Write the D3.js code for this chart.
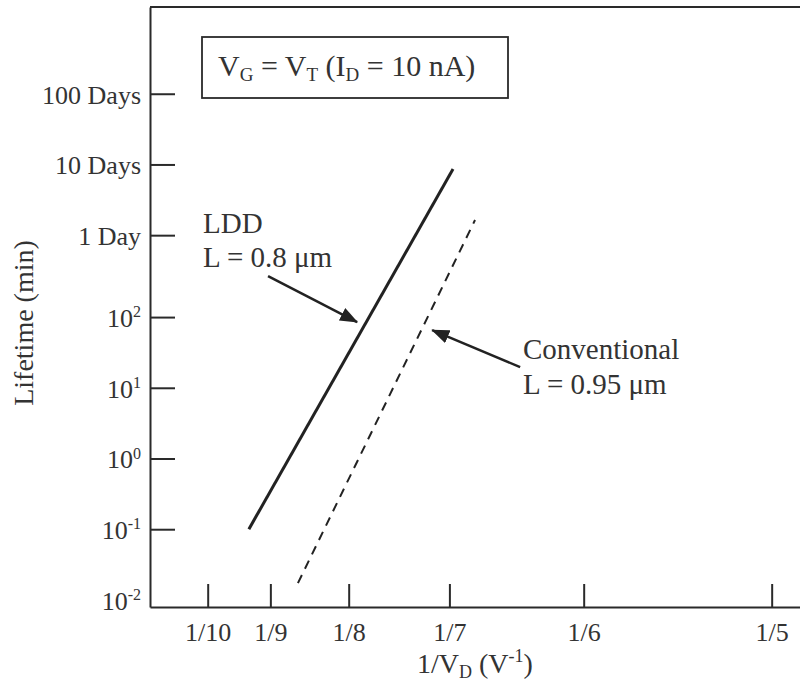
<!DOCTYPE html>
<html>
<head>
<meta charset="utf-8">
<script src="https://cdn.jsdelivr.net/npm/d3@7"></script>
<style>
    body { margin: 0; background: #fff; }
    .axis path, .axis line { stroke: #2a2a2a; stroke-width: 2; }
    .axis text { fill: #333; font-size: 26px; font-family: "Liberation Serif", serif; }
</style>
</head>
<body>
<script>
//tick values and labels
var xTickVals = [1/10, 1/9, 1/8, 1/7, 1/6, 1/5];
var xTickLabels = ["1/10", "1/9", "1/8", "1/7", "1/6", "1/5"];
var yTickVals = [0.01, 0.1, 1, 10, 100, 1440, 14400, 144000];
var yTickLabels = [["10", "-2"], ["10", "-1"], ["10", "0"], ["10", "1"], ["10", "2"], "1 Day", "10 Days", "100 Days"];

//lifetime lines, [1/VD, lifetime in min]
var lddLine = [[0.1073, 0.1], [0.1435, 12400]];
var convLine = [[0.1160, 0.0173], [0.1474, 2355]];

//annotation arrows, [from, tip] in data units
var lddArrow = [[0.1107, 380], [0.1265, 85]];
var convArrow = [[0.1554, 19.6], [0.1398, 65.5]];

var width = 800,
    height = 700;

var svg = d3.select("body")
    .append("svg")
    .attr("width", width)
    .attr("height", height)
    .style("display", "block");

var defs = svg.append("defs");
defs.append("marker")
    .attr("id", "head")
    .attr("markerUnits", "userSpaceOnUse")
    .attr("viewBox", "0 0 18 14")
    .attr("refX", 17)
    .attr("refY", 7)
    .attr("markerWidth", 18)
    .attr("markerHeight", 14)
    .attr("orient", "auto")
    .append("path")
    .attr("d", "M0,0 L18,7 L0,14 Z")
    .attr("fill", "#222");

//scales
var x = d3.scaleLinear()
    .domain([0.08977, 0.2052])
    .range([150, 801]);

var y = d3.scaleLog()
    .domain([Math.pow(10, -2.1), Math.pow(10, 6.385)])
    .range([607, 7]);

//frame top and right
svg.append("path")
    .attr("d", "M150,7 H802 V607")
    .attr("fill", "none")
    .attr("stroke", "#2a2a2a")
    .attr("stroke-width", 2);

//y axis
var yAxis = svg.append("g")
    .attr("class", "axis")
    .attr("transform", "translate(150,0)")
    .call(d3.axisLeft(y)
        .tickValues(yTickVals)
        .tickSize(-25)
        .tickSizeOuter(0)
        .tickPadding(9)
        .tickFormat(""));

yAxis.selectAll(".tick").each(function(d, i){
    var g = d3.select(this);
    if (i == 0) g.select("line").remove(); //10^-2 sits on the bottom axis
    var t = g.select("text").text(null).attr("dy", "0.36em");
    var lab = yTickLabels[i];
    if (typeof lab == "string"){
        t.text(lab);
    } else {
        t.append("tspan").text(lab[0]);
        t.append("tspan")
            .attr("dy", "-0.6em")
            .style("font-size", "16px")
            .text(lab[1]);
    }
});

//x axis
svg.append("g")
    .attr("class", "axis")
    .attr("transform", "translate(0,607)")
    .call(d3.axisBottom(x)
        .tickValues(xTickVals)
        .tickSize(-23)
        .tickSizeOuter(0)
        .tickPadding(16)
        .tickFormat(function(d, i){ return xTickLabels[i]; }));

//lines
var line = d3.line()
    .x(function(d){ return x(d[0]); })
    .y(function(d){ return y(d[1]); });

svg.append("path")
    .datum(lddLine)
    .attr("d", line)
    .attr("fill", "none")
    .attr("stroke", "#222")
    .attr("stroke-width", 3);

svg.append("path")
    .datum(convLine)
    .attr("d", line)
    .attr("fill", "none")
    .attr("stroke", "#222")
    .attr("stroke-width", 2)
    .attr("stroke-dasharray", "9,7");

//arrows
[lddArrow, convArrow].forEach(function(a){
    svg.append("line")
        .attr("x1", x(a[0][0]))
        .attr("y1", y(a[0][1]))
        .attr("x2", x(a[1][0]))
        .attr("y2", y(a[1][1]))
        .attr("stroke", "#222")
        .attr("stroke-width", 2.5)
        .attr("marker-end", "url(#head)");
});

//text helper
function addText(xp, yp, parts, size, anchor){
    var t = svg.append("text")
        .attr("x", xp)
        .attr("y", yp)
        .attr("fill", "#333")
        .attr("text-anchor", anchor || "start")
        .style("font-family", "'Liberation Serif', 'Times New Roman', serif")
        .style("font-size", size + "px");
    var shift = 0;
    parts.forEach(function(p){
        var ts = t.append("tspan").text(p[0]);
        var want = p[1] == "sub" ? 5 : (p[1] == "sup" ? -11 : 0);
        if (want != shift) ts.attr("dy", want - shift);
        shift = want;
        if (p[1]) ts.style("font-size", Math.round(size * 0.64) + "px");
    });
    return t;
}

//annotations
addText(203, 233, [["LDD"]], 29);
addText(203, 267, [["L = 0.8 \u03bcm"]], 29);
addText(523, 359, [["Conventional"]], 29);
addText(523, 394, [["L = 0.95 \u03bcm"]], 29);

//condition box
svg.append("rect")
    .attr("x", 202)
    .attr("y", 37)
    .attr("width", 306)
    .attr("height", 61)
    .attr("fill", "none")
    .attr("stroke", "#2a2a2a")
    .attr("stroke-width", 1.8);

addText(218, 76, [["V"], ["G", "sub"], [" = V"], ["T", "sub"], [" (I"], ["D", "sub"], [" = 10 nA)"]], 30);

//axis titles
addText(417, 673, [["1/V"], ["D", "sub"], [" (V"], ["-1", "sup"], [")"]], 28);

addText(0, 0, [["Lifetime (min)"]], 28, "middle")
    .attr("transform", "translate(33,323) rotate(-90)");
</script>
</body>
</html>
